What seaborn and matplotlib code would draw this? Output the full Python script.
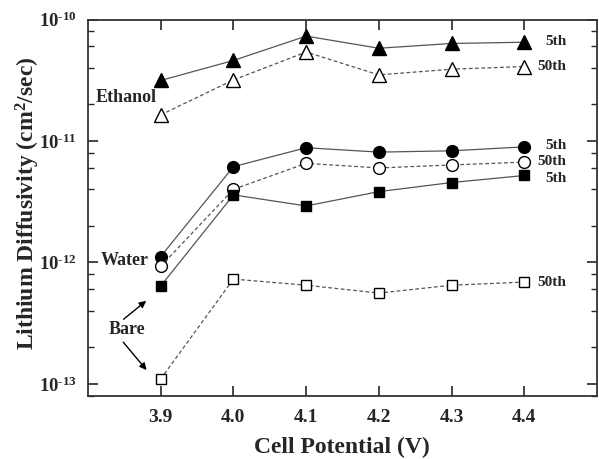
import numpy as np
import pandas as pd
import matplotlib
matplotlib.use("Agg")
import matplotlib.pyplot as plt
import seaborn as sns
from matplotlib.ticker import LogLocator, FixedLocator, FuncFormatter, NullFormatter

potential = [3.9, 4.0, 4.1, 4.2, 4.3, 4.4]
ethanol_5th = [3.15e-11, 4.6e-11, 7.3e-11, 5.8e-11, 6.35e-11, 6.5e-11]
ethanol_50th = [1.64e-11, 3.18e-11, 5.4e-11, 3.5e-11, 3.9e-11, 4.1e-11]
water_5th = [1.12e-12, 6.15e-12, 8.8e-12, 8.1e-12, 8.3e-12, 8.95e-12]
water_50th = [9.3e-13, 4.0e-12, 6.55e-12, 6.0e-12, 6.35e-12, 6.7e-12]
bare_5th = [6.4e-13, 3.6e-12, 2.92e-12, 3.83e-12, 4.55e-12, 5.2e-12]
bare_50th = [1.1e-13, 7.3e-13, 6.5e-13, 5.6e-13, 6.5e-13, 6.9e-13]
x_ticks = [3.9, 4.0, 4.1, 4.2, 4.3, 4.4]

sns.set_style("ticks")
plt.rcParams['font.family'] = ['Liberation Serif', 'DejaVu Serif']
plt.rcParams['font.weight'] = 'bold'
plt.rcParams['mathtext.fontset'] = 'custom'
plt.rcParams['mathtext.rm'] = 'Liberation Serif:bold'
plt.rcParams['mathtext.bf'] = 'Liberation Serif:bold'
plt.rcParams['mathtext.it'] = 'Liberation Serif:bold'

fig = plt.figure(figsize=(5.99, 4.59), dpi=100)
ax = fig.add_axes([88/599, 1-396/459, (597-88)/599, (396-19.5)/459])

series = [
    (ethanol_5th, '^', 'black', '-', 10),
    (ethanol_50th, '^', 'white', (0, (3, 2)), 10),
    (water_5th, 'o', 'black', '-', 8.5),
    (water_50th, 'o', 'white', (0, (3, 2)), 8.5),
    (bare_5th, 's', 'black', '-', 7.5),
    (bare_50th, 's', 'white', (0, (3, 2)), 7.5),
]
for vals, mk, fc, ls, ms in series:
    df = pd.DataFrame({'x': potential, 'y': vals})
    sns.lineplot(data=df, x='x', y='y', ax=ax, color='#555555', linewidth=0.9,
                 linestyle=ls, marker=mk, markersize=ms, markerfacecolor=fc,
                 markeredgecolor='black', markeredgewidth=1.0)

ax.set_yscale('log')
ax.set_xlim(3.8, 4.5)
ax.set_ylim(10**-13.099, 1e-10)
ax.xaxis.set_major_locator(FixedLocator(x_ticks))
ax.set_xticklabels([f"{v:.1f}" for v in x_ticks])
ax.yaxis.set_major_locator(FixedLocator([1e-13, 1e-12, 1e-11, 1e-10]))
ax.yaxis.set_major_formatter(FuncFormatter(
    lambda v, p: '$\\mathbf{10^{\\text{-}%d}}$' % abs(round(np.log10(v)))))
ax.yaxis.set_minor_locator(LogLocator(base=10, subs=[2, 4, 6, 8]))
ax.yaxis.set_minor_formatter(NullFormatter())
ax.tick_params(axis='both', which='major', direction='in', length=7, width=1.2,
               top=True, right=True)
ax.tick_params(axis='x', which='major', pad=9, labelsize=14)
ax.tick_params(axis='y', which='major', pad=8, labelsize=13.5)
ax.tick_params(axis='y', which='minor', direction='in', length=4, width=1.0,
               right=True, left=True)
for s in ax.spines.values():
    s.set_linewidth(1.3)
    s.set_color('#333333')

ax.set_xlabel('Cell Potential (V)', fontsize=17, fontweight='bold', va='center')
ax.set_ylabel(r'Lithium Diffusivity (cm$^2$/sec)', fontsize=17, fontweight='bold', va='center')
ax.xaxis.set_label_coords((342-88)/509, (396-447)/376.5)
ax.yaxis.set_label_coords((28-88)/509, (396-203)/376.5)

ax.text(3.81, 2.3e-11, 'Ethanol', fontsize=13, fontweight='bold', va='center', ha='left')
ax.text(3.817, 1.03e-12, 'Water', fontsize=13, fontweight='bold', va='center', ha='left')
ax.text(3.828, 2.8e-13, 'Bare', fontsize=13, fontweight='bold', va='center', ha='left')
ax.annotate('', xy=(3.883, 5.0e-13), xytext=(3.846, 3.3e-13),
            arrowprops=dict(arrowstyle='-|>', color='black', lw=1.0, mutation_scale=10))
ax.annotate('', xy=(3.883, 1.25e-13), xytext=(3.846, 2.3e-13),
            arrowprops=dict(arrowstyle='-|>', color='black', lw=1.0, mutation_scale=10))

right_labels = [
    ('5th', 4.429, 6.6e-11),
    ('50th', 4.418, 4.1e-11),
    ('5th', 4.429, 9.1e-12),
    ('50th', 4.418, 6.8e-12),
    ('5th', 4.429, 4.9e-12),
    ('50th', 4.418, 6.9e-13),
]
for t, xx, yy in right_labels:
    ax.text(xx, yy, t, fontsize=11, fontweight='bold', va='center', ha='left')

fig.savefig('out.png', dpi=100)
